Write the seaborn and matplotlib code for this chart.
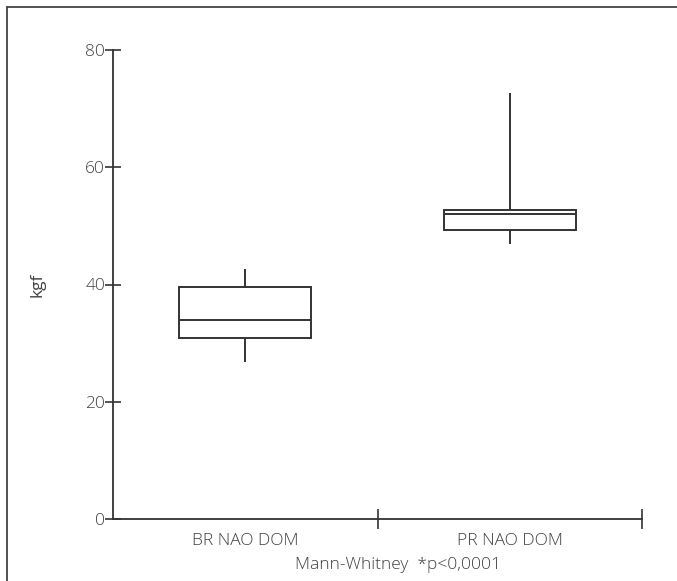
import matplotlib
matplotlib.use("Agg")
import matplotlib.pyplot as plt
from matplotlib.lines import Line2D
import seaborn as sns
import pandas as pd

# data (five-number summaries: min, Q1, median, Q3, max)
groups = ["BR NAO DOM", "PR NAO DOM"]
br_values = [26.7, 30.8, 33.9, 39.6, 42.6]
pr_values = [46.9, 49.3, 52.0, 52.7, 72.7]
y_ticks = [0, 20, 40, 60, 80]
y_label = "kgf"
note = "Mann-Whitney  *p<0,0001"

df = pd.DataFrame({
    "group": [groups[0]] * len(br_values) + [groups[1]] * len(pr_values),
    "kgf": br_values + pr_values,
})

sns.set_style("ticks")
plt.rcParams["font.family"] = ["Open Sans", "DejaVu Sans"]
plt.rcParams["font.weight"] = "light"

text_color = "#404040"
line_color = "#333333"
fs = 12.5

fig = plt.figure(figsize=(6.77, 5.81), dpi=100)
ax = fig.add_axes([113 / 677, 1 - 519 / 581, (642 - 113) / 677, (519 - 50) / 581])

sns.boxplot(
    data=df, x="group", y="kgf", order=groups, ax=ax,
    whis=(0, 100), width=0.5, showfliers=False, showcaps=False,
    color="white", linewidth=1.4, linecolor=line_color,
)

ax.set_xlim(-0.5, 1.5)
ax.set_ylim(0, 80)
ax.set_yticks(y_ticks)
ax.set_yticklabels([str(v) for v in y_ticks])
ax.set_ylabel(y_label, color=text_color, fontsize=fs)
ax.yaxis.set_label_coords((46 - 113) / 529, 0.5)
ax.set_xlabel("")

# category labels without marks; separator marks between categories
ax.tick_params(axis="x", which="major", length=0, pad=10, labelsize=fs, labelcolor=text_color)
ax.set_xticks([0.5, 1.5], minor=True)
ax.tick_params(axis="x", which="minor", length=15, width=1.2, direction="inout", color=line_color)
ax.tick_params(axis="y", which="major", length=11.5, width=1.2, direction="inout",
               color=line_color, pad=0, labelsize=fs, labelcolor=text_color)

sns.despine(ax=ax, top=True, right=True)
for s in ("left", "bottom"):
    ax.spines[s].set_color(line_color)
    ax.spines[s].set_linewidth(1.3)

fig.text(398 / 677, 1 - 565 / 581, note, ha="center", va="center",
         fontsize=fs, color=text_color)

# partial frame around the figure (top and left edges)
fig.add_artist(Line2D([7 / 677, 1.0], [1 - 7 / 581, 1 - 7 / 581],
                      transform=fig.transFigure, color="#444444", linewidth=1.3))
fig.add_artist(Line2D([7 / 677, 7 / 677], [0, 1 - 7 / 581],
                      transform=fig.transFigure, color="#444444", linewidth=1.3))

fig.savefig("out.png", dpi=100)
